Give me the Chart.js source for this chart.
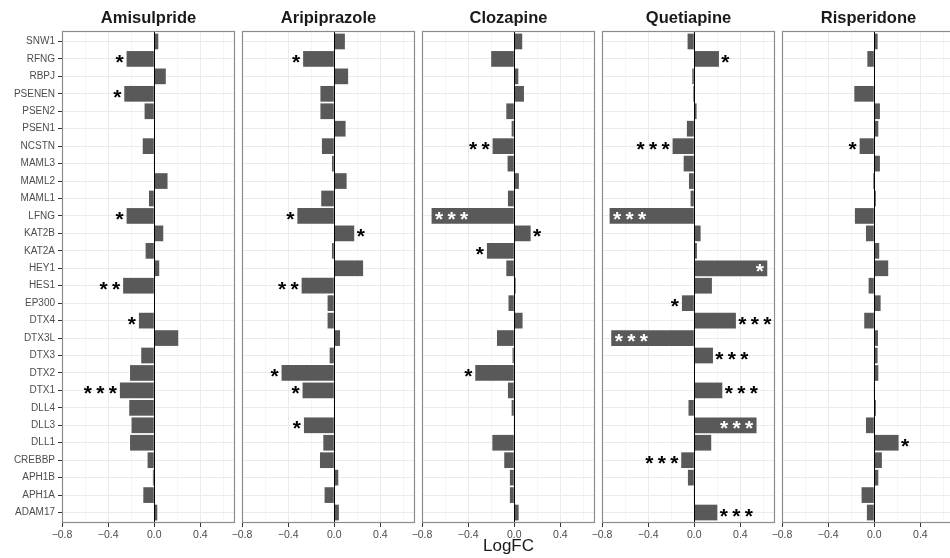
<!DOCTYPE html>
<html>
<head>
<meta charset="utf-8">
<script src="https://cdn.jsdelivr.net/npm/chart.js@4.4.1/dist/chart.umd.min.js"></script>
<style>
  html, body { margin: 0; padding: 0; background: #fff; overflow: hidden; }
  #wrap { position: relative; width: 950px; height: 558px; }
  #wrap canvas { position: absolute; top: 0; }
</style>
</head>
<body>
<div id="wrap"></div>
<script>
// genes, top to bottom
const genes = ['SNW1','RFNG','RBPJ','PSENEN','PSEN2','PSEN1','NCSTN','MAML3','MAML2','MAML1',
  'LFNG','KAT2B','KAT2A','HEY1','HES1','EP300','DTX4','DTX3L','DTX3','DTX2','DTX1',
  'DLL4','DLL3','DLL1','CREBBP','APH1B','APH1A','ADAM17'];

const drugs = ['Amisulpride','Aripiprazole','Clozapine','Quetiapine','Risperidone'];

// logFC per drug (same order as genes)
const amisulpride = [0.035,-0.24,0.10,-0.26,-0.084,0.003,-0.10,-0.004,0.115,-0.046,
  -0.24,0.078,-0.075,0.043,-0.27,0.003,-0.133,0.208,-0.113,-0.21,-0.298,
  -0.217,-0.197,-0.21,-0.058,-0.012,-0.095,0.026];
const aripiprazole = [0.092,-0.27,0.12,-0.12,-0.12,0.098,-0.107,-0.02,0.107,-0.113,
  -0.32,0.173,-0.02,0.25,-0.283,-0.058,-0.058,0.05,-0.04,-0.457,-0.275,
  -0.004,-0.263,-0.095,-0.124,0.035,-0.084,0.04];
const clozapine = [0.069,-0.2,0.035,0.084,-0.069,-0.023,-0.188,-0.058,0.04,-0.055,
  -0.717,0.142,-0.237,-0.069,0.012,-0.05,0.072,-0.15,-0.015,-0.338,-0.055,
  -0.023,-0.005,-0.19,-0.087,-0.038,-0.038,0.038];
const quetiapine = [-0.058,0.214,-0.017,-0.01,0.02,-0.064,-0.188,-0.092,-0.046,-0.032,
  -0.734,0.055,0.023,0.633,0.153,-0.107,0.361,-0.72,0.162,0.005,0.243,
  -0.05,0.54,0.147,-0.113,-0.055,-0.005,0.2];
const risperidone = [0.029,-0.06,0.003,-0.173,0.049,0.035,-0.127,0.049,-0.01,0.014,
  -0.168,-0.072,0.043,0.121,-0.049,0.055,-0.087,0.032,0.029,0.035,-0.005,
  0.014,-0.072,0.211,0.066,0.035,-0.11,-0.064];

// significance stars
const amisulprideSig = ['','*','','*','','','','','','', '*','','','','**','','*','','','','***', '','','','','','',''];
const aripiprazoleSig = ['','*','','','','','','','','', '*','*','','','**','','','','','*','*', '','*','','','','',''];
const clozapineSig = ['','','','','','','**','','','', '***','*','*','','','','','','','*','', '','','','','','',''];
const quetiapineSig = ['','*','','','','','***','','','', '***','','','*','','*','***','***','***','','***', '','***','','***','','','***'];
const risperidoneSig = ['','','','','','','*','','','', '','','','','','','','','','','', '','','*','','','',''];

const xTicks = [-0.8,-0.6,-0.4,-0.2,0,0.2,0.4,0.6];
const xMin = -0.8, xMax = 0.7;

const values = [amisulpride, aripiprazole, clozapine, quetiapine, risperidone];
const sigs = [amisulprideSig, aripiprazoleSig, clozapineSig, quetiapineSig, risperidoneSig];

const FONT = '"Liberation Sans", Arial, Helvetica, sans-serif';
const panelLeft = [62, 242, 422, 602, 782];
const SIDE = 62, PW = 173;

const isMajor = v => Math.abs(Math.round(v / 0.4) * 0.4 - v) < 1e-6;

const panelPlugin = {
  id: 'panel',
  afterDatasetsDraw(chart, args, opts) {
    const {ctx, chartArea: a, scales: {x, y}} = chart;
    // zero line
    const x0 = Math.round(x.getPixelForValue(0)) + 0.5;
    ctx.save();
    ctx.strokeStyle = '#000';
    ctx.lineWidth = 1;
    ctx.beginPath(); ctx.moveTo(x0, a.top); ctx.lineTo(x0, a.bottom); ctx.stroke();
    // stars
    ctx.font = 'bold 21px ' + FONT;
    ctx.textAlign = 'center';
    ctx.textBaseline = 'alphabetic';
    const m = ctx.measureText('*');
    const shift = (m.actualBoundingBoxAscent - m.actualBoundingBoxDescent) / 2;
    const vals = opts.values, sig = opts.sig;
    sig.forEach((s, i) => {
      if (!s) return;
      const v = vals[i];
      const xe = x.getPixelForValue(v);
      const yc = y.getPixelForValue(i) + shift;
      const inside = Math.abs(v) > 0.5;
      const n = s.length, gap = 12.5;
      ctx.fillStyle = inside ? '#fff' : '#000';
      for (let k = 0; k < n; k++) {
        let cx;
        if (v < 0) cx = inside ? xe + 7.5 + k * gap : xe - 7 - (n - 1 - k) * gap;
        else cx = inside ? xe - 7.5 - (n - 1 - k) * gap : xe + 6.5 + k * gap;
        ctx.fillText('*', cx, yc);
      }
    });
    ctx.restore();
  },
  afterDraw(chart) {
    const {ctx, chartArea: a} = chart;
    ctx.save();
    ctx.strokeStyle = '#8c8c8c';
    ctx.lineWidth = 1.2;
    ctx.strokeRect(a.left + 0.5, a.top + 0.5, a.right - a.left - 1, a.bottom - a.top - 1);
    ctx.restore();
  }
};

const wrap = document.getElementById('wrap');

drugs.forEach((drug, p) => {
  const cv = document.createElement('canvas');
  cv.width = PW + 2 * SIDE;
  cv.height = 558;
  cv.style.left = (panelLeft[p] - SIDE) + 'px';
  wrap.appendChild(cv);
  const first = p === 0;
  new Chart(cv, {
    type: 'bar',
    data: {
      datasets: [{
        data: genes.map((g, i) => ({x: values[p][i], y: i})),
        backgroundColor: '#595959',
        borderWidth: 0,
        barPercentage: 0.9,
        categoryPercentage: 1
      }]
    },
    options: {
      indexAxis: 'y',
      responsive: false,
      animation: false,
      devicePixelRatio: 1,
      layout: { padding: 0 },
      scales: {
        x: {
          type: 'linear',
          min: xMin, max: xMax,
          afterBuildTicks: s => { s.ticks = xTicks.map(v => ({value: v})); },
          afterFit: s => { s.height = 35; },
          border: { display: false },
          grid: {
            color: c => isMajor(c.tick.value) ? '#ebebeb' : '#f2f2f2',
            lineWidth: c => isMajor(c.tick.value) ? 1 : 0.7,
            tickColor: c => isMajor(c.tick.value) ? '#333' : 'rgba(0,0,0,0)',
            tickLength: 4
          },
          ticks: {
            autoSkip: false, maxRotation: 0, padding: 2,
            color: '#4d4d4d',
            font: { family: FONT, size: 10.5 },
            callback: v => isMajor(v) ? (v < 0 ? '\u2212' : '') + Math.abs(v).toFixed(1) : ''
          },
          title: {
            display: p === 2, text: 'LogFC', color: '#1a1a1a',
            font: { family: FONT, size: 17 },
            padding: { top: 0, bottom: 1 }
          }
        },
        y: {
          type: 'linear',
          reverse: true,
          offset: false,
          min: -0.6, max: genes.length - 0.4,
          afterBuildTicks: s => { s.ticks = genes.map((g, i) => ({value: i})); },
          afterFit: s => { s.width = SIDE; },
          border: { display: false },
          grid: { offset: false, color: '#ebebeb', lineWidth: 1, drawTicks: first, tickLength: 4, tickColor: '#333' },
          ticks: {
            display: first, autoSkip: false, padding: 3,
            color: '#4d4d4d',
            font: { family: FONT, size: 10 },
            callback: v => genes[v]
          }
        },
        // empty right-hand spacer so the title centres over the panel
        pad: {
          type: 'linear', position: 'right', axis: 'y',
          grid: { display: false }, border: { display: false },
          ticks: { display: false },
          afterFit: s => { s.width = SIDE; }
        }
      },
      plugins: {
        legend: { display: false },
        tooltip: { enabled: false },
        title: {
          display: true, text: drug, color: '#1a1a1a',
          font: { family: FONT, size: 16.5, weight: 'bold' },
          padding: { top: 8.3, bottom: 2.9 }
        },
        panel: { values: values[p], sig: sigs[p] }
      }
    },
    plugins: [panelPlugin]
  });
});
</script>
</body>
</html>
